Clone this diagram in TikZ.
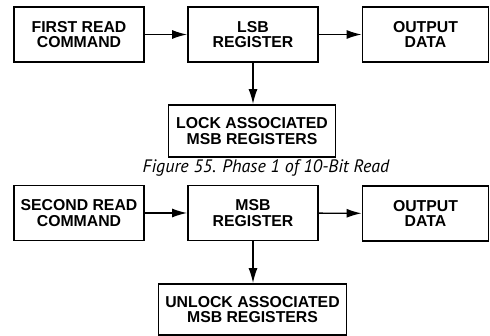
\documentclass[tikz,border=0pt]{standalone}
\usepackage{fontspec}
\setmainfont{Liberation Sans}
\newfontfamily\capfont{PT Sans}
\usetikzlibrary{arrows.meta}
\tikzset{
  blk/.style={draw, line width=1.8pt, align=center, inner sep=0pt,
    font=\fontsize{15.8}{15.5}\selectfont\bfseries},
  conn/.style={line width=1.4pt, -{Latex[length=15pt,width=9pt]}},
}
\begin{document}
\begin{tikzpicture}[x=1pt,y=-1pt]
\useasboundingbox (0,0) rectangle (490,336);
\node[blk, minimum width=130pt, minimum height=55pt] (cmdA) at (79,34.5) {FIRST READ\\COMMAND};
\node[blk, minimum width=130pt, minimum height=55pt] (lsb) at (253,34.5) {LSB\\REGISTER};
\node[blk, minimum width=126pt, minimum height=55pt] (outA) at (425.5,34.5) {OUTPUT\\DATA};
\node[blk, minimum width=167pt, minimum height=52pt] (lock) at (252,131) {LOCK ASSOCIATED\\MSB REGISTERS};
\node[font=\capfont\itshape\fontsize{18}{18}\selectfont, anchor=base, inner sep=0pt] (cap) at (266,173) {Figure 55. Phase 1 of 10-Bit Read};
\node[blk, minimum width=130pt, minimum height=55pt] (cmdB) at (79,213) {SECOND READ\\COMMAND};
\node[blk, minimum width=130pt, minimum height=55pt] (msb) at (253,213) {MSB\\REGISTER};
\node[blk, minimum width=126pt, minimum height=55pt] (outB) at (425.5,213.5) {OUTPUT\\DATA};
\node[blk, minimum width=188pt, minimum height=51pt] (unlock) at (252.5,309.5) {UNLOCK ASSOCIATED\\MSB REGISTERS};
\draw[conn] (cmdA) -- (lsb);
\draw[conn] (lsb) -- (outA);
\draw[conn] (lsb) -- (lsb |- lock.north);
\draw[conn] (cmdB) -- (msb);
\draw[conn] (msb) -- (outB);
\draw[conn] (msb) -- (msb |- unlock.north);
\end{tikzpicture}
\end{document}
